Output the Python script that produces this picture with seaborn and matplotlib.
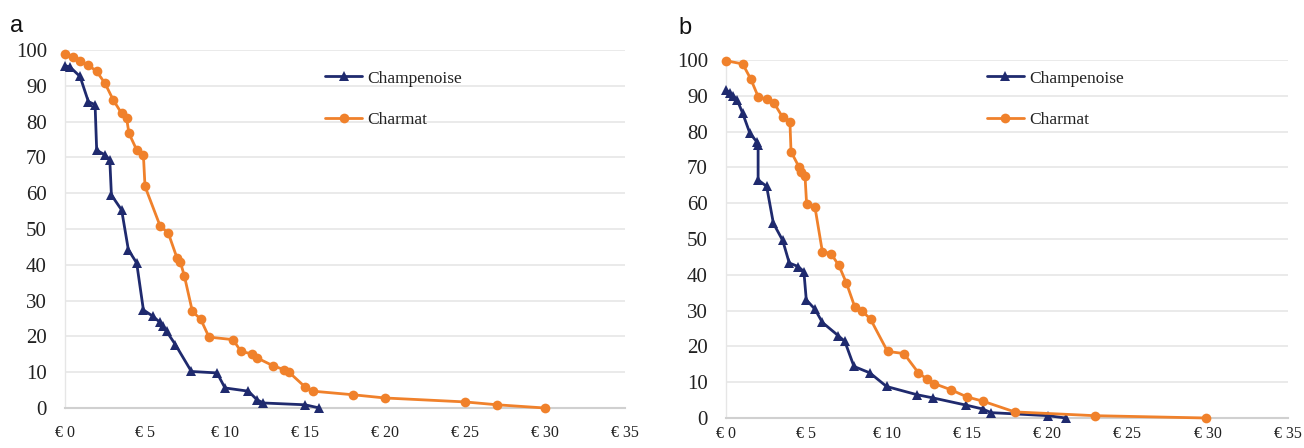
import numpy as np
import pandas as pd
import matplotlib
matplotlib.use("Agg")
import matplotlib.pyplot as plt
import seaborn as sns

# Panel a
a_champ_x = [0, 0.3, 0.94, 1.46, 1.88, 1.98, 2.5, 2.8, 2.9, 3.54, 3.96, 4.48, 4.9, 5.5, 5.94, 6.15, 6.35, 6.9, 7.9, 9.5, 10.0, 11.46, 12.0, 12.4, 15.0, 15.9]
a_champ_y = [95.6, 95.3, 92.6, 85.6, 84.7, 72.0, 70.7, 69.3, 59.5, 55.3, 44.2, 40.5, 27.4, 25.6, 23.9, 22.8, 21.4, 17.7, 10.2, 9.8, 5.6, 4.7, 2.3, 1.4, 0.9, 0]
a_charm_x = [0, 0.52, 0.94, 1.46, 1.98, 2.5, 3.02, 3.54, 3.85, 4.0, 4.48, 4.9, 5.0, 5.94, 6.46, 7.0, 7.2, 7.46, 7.96, 8.48, 9.0, 10.5, 11.0, 11.7, 12.0, 13.0, 13.7, 14.0, 15.0, 15.5, 18.0, 20.0, 25.0, 27.0, 30.0]
a_charm_y = [99.0, 98.1, 96.9, 95.8, 94.0, 90.7, 86.0, 82.3, 80.9, 76.7, 72.1, 70.7, 61.9, 50.9, 48.8, 41.9, 40.9, 36.9, 27.0, 24.8, 19.8, 19.1, 15.8, 15.1, 14.0, 11.8, 10.7, 10.0, 5.9, 4.7, 3.7, 2.8, 1.7, 0.9, 0]

# Panel b
b_champ_x = [0, 0.25, 0.46, 0.7, 1.04, 1.49, 1.91, 2.0, 2.0, 2.53, 2.95, 3.53, 3.94, 4.5, 4.85, 5.0, 5.54, 6.0, 6.99, 7.4, 7.97, 8.96, 10.0, 11.9, 12.9, 14.95, 16.0, 16.5, 20.06, 21.16]
b_champ_y = [91.6, 90.9, 90.0, 88.8, 85.1, 79.5, 77.2, 76.3, 66.5, 64.7, 54.4, 49.6, 43.3, 42.3, 40.9, 33.0, 30.4, 26.7, 23.0, 21.4, 14.4, 12.6, 8.8, 6.5, 5.6, 3.6, 2.5, 1.5, 0.65, 0]
b_charm_x = [0, 1.04, 1.54, 2.0, 2.53, 3.0, 3.53, 3.98, 4.05, 4.56, 4.7, 4.92, 5.02, 5.54, 6.0, 6.54, 7.03, 7.5, 8.03, 8.5, 9.0, 10.06, 11.08, 11.97, 12.5, 12.97, 14.0, 15.0, 16.0, 17.98, 22.96, 29.9]
b_charm_y = [99.8, 98.9, 94.7, 89.8, 89.0, 87.9, 84.0, 82.8, 74.4, 70.0, 68.8, 67.7, 59.8, 58.9, 46.5, 45.9, 42.6, 37.7, 30.9, 29.8, 27.6, 18.6, 18.0, 12.7, 10.9, 9.6, 7.9, 5.9, 4.7, 1.7, 0.65, 0]

series = ["Champenoise", "Charmat"]
x_ticks = [0, 5, 10, 15, 20, 25, 30, 35]
x_labels = ["€ 0", "€ 5", "€ 10", "€ 15", "€ 20", "€ 25", "€ 30", "€ 35"]
y_ticks = [0, 10, 20, 30, 40, 50, 60, 70, 80, 90, 100]

NAVY = "#1f2a6e"
ORANGE = "#f0812b"

def make_df(cx, cy, ox, oy):
    d1 = pd.DataFrame({"price": cx, "pct": cy, "method": series[0]})
    d2 = pd.DataFrame({"price": ox, "pct": oy, "method": series[1]})
    return pd.concat([d1, d2], ignore_index=True)

sns.set_theme(style="white")
plt.rcParams["font.family"] = ["Liberation Serif", "DejaVu Serif"]

fig = plt.figure(figsize=(13.04, 4.48), dpi=100)
ax_a = fig.add_axes([65/1304, 1-408/448, 560/1304, 358/448])
ax_b = fig.add_axes([726/1304, 1-418/448, 562/1304, 358/448])

panels = [
    (ax_a, make_df(a_champ_x, a_champ_y, a_charm_x, a_charm_y), "a", (10/1304, 1-32/448), 0.943, 12),
    (ax_b, make_df(b_champ_x, b_champ_y, b_charm_x, b_charm_y), "b", (678/1304, 1-34/448), 0.971, 6),
]

for ax, df, lab, pos, leg_y, xpad in panels:
    sns.lineplot(data=df, x="price", y="pct", hue="method", style="method",
                 hue_order=series, style_order=series,
                 palette={series[0]: NAVY, series[1]: ORANGE},
                 markers={series[0]: "^", series[1]: "o"}, dashes=False,
                 sort=False, estimator=None,
                 linewidth=2.0, markersize=7, markeredgewidth=0,
                 ax=ax, clip_on=False, zorder=3)
    ax.set_xlim(0, 35)
    ax.set_ylim(0, 100)
    ax.set_xticks(x_ticks)
    ax.set_xticklabels(x_labels, fontsize=11.5)
    ax.set_yticks(y_ticks)
    ax.set_yticklabels([str(v) for v in y_ticks], fontsize=15)
    ax.grid(axis="y", color="#e6e6e6", linewidth=1.2)
    ax.set_axisbelow(True)
    for s in ["top", "right"]:
        ax.spines[s].set_visible(False)
    ax.spines["left"].set_color("#e6e6e6")
    ax.spines["bottom"].set_color("#d0d0d0")
    ax.spines["left"].set_linewidth(1.0)
    ax.spines["bottom"].set_linewidth(1.5)
    ax.tick_params(axis="both", length=0, colors="#222222")
    ax.tick_params(axis="y", pad=13)
    ax.tick_params(axis="x", pad=xpad)
    ax.set_xlabel("")
    ax.set_ylabel("")
    leg = ax.legend(loc="upper left", bbox_to_anchor=(0.464, leg_y), frameon=False,
                    fontsize=12.5, handlelength=2.15, handletextpad=0.3,
                    labelspacing=1.47, borderpad=0, borderaxespad=0)
    for t in leg.get_texts():
        t.set_color("#222222")
    fig.text(pos[0], pos[1], lab, fontsize=17, family="Liberation Sans", color="#111111")

fig.savefig("out.png", dpi=100)
